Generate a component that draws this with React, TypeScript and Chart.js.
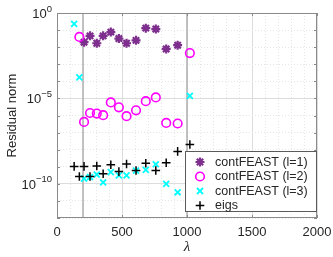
import React, { useEffect, useRef } from 'react';
import { Chart, registerables } from 'chart.js';
Chart.register(...registerables);

// ---- data ----
const lambda = [132, 172, 208, 254, 306, 355, 414, 476, 535, 608, 683, 760, 840, 928, 1022];
const resL1 = [null, null, 1.95e-2, 4.6e-2, 1.7e-2, 4.6e-2, 7.6e-2, 3.2e-2, 1.7e-2, 2.5e-2, 1.3e-1, 1.15e-1, 7.9e-3, 1.3e-2, null];
const resL2 = [null, 4.0e-2, 4.2e-7, 1.4e-6, 1.3e-6, 1.05e-6, 5.8e-6, 3.0e-6, 9.1e-7, 2.0e-6, 6.9e-6, 1.15e-5, 3.7e-7, 3.4e-7, 4.5e-3];
const resL3 = [2.3e-1, 1.7e-4, 2.0e-10, 2.5e-10, 3.5e-10, 1.2e-10, 4.8e-10, 3.1e-10, 3.1e-10, 6.0e-10, 6.6e-10, 1.4e-9, 1.0e-10, 3.2e-11, 1.4e-5];
const resEigs = [1.05e-9, 2.7e-10, 1.05e-9, 2.7e-10, 1.1e-9, 3.9e-10, 1.3e-9, 5.2e-10, 1.45e-9, 6.0e-10, 1.6e-9, 6.0e-10, 1.7e-9, 7.9e-9, 2.0e-8];
const intervalBounds = [200, 1000];
const xTickLabels = [0, 500, 1000, 1500, 2000];
const yTickExponents = [0, -5, -10];
const seriesNames = ['contFEAST (l=1)', 'contFEAST (l=2)', 'contFEAST (l=3)', 'eigs'];
const xTitle = 'λ';
const yTitle = 'Residual norm';

const COLORS = ['#7E2F8E', '#FF00FF', '#00FFFF', '#000000'];
const TEXT = '#262626';
const FRAME = '#8a8a8a';
const FONT = '"Liberation Sans", Arial, Helvetica, sans-serif';

const toPoints = (ys: (number | null)[]) =>
  lambda
    .map((x, i) => (ys[i] == null ? null : { x, y: ys[i] as number }))
    .filter((p) => p !== null) as { x: number; y: number }[];

function drawMarker(ctx: CanvasRenderingContext2D, kind: number, cx: number, cy: number) {
  ctx.save();
  ctx.strokeStyle = COLORS[kind];
  ctx.beginPath();
  if (kind === 0) {
    const r = 4.5, d = r * Math.SQRT1_2;
    ctx.lineWidth = 2.2;
    ctx.moveTo(cx - r, cy); ctx.lineTo(cx + r, cy);
    ctx.moveTo(cx, cy - r); ctx.lineTo(cx, cy + r);
    ctx.moveTo(cx - d, cy - d); ctx.lineTo(cx + d, cy + d);
    ctx.moveTo(cx - d, cy + d); ctx.lineTo(cx + d, cy - d);
  } else if (kind === 1) {
    ctx.lineWidth = 1.6;
    ctx.arc(cx, cy, 4.3, 0, Math.PI * 2);
  } else if (kind === 2) {
    const d = 3;
    ctx.lineWidth = 1.8;
    ctx.moveTo(cx - d, cy - d); ctx.lineTo(cx + d, cy + d);
    ctx.moveTo(cx - d, cy + d); ctx.lineTo(cx + d, cy - d);
  } else {
    const r = 4.3;
    ctx.lineWidth = 1.5;
    ctx.moveTo(cx - r, cy); ctx.lineTo(cx + r, cy);
    ctx.moveTo(cx, cy - r); ctx.lineTo(cx, cy + r);
  }
  ctx.stroke();
  ctx.restore();
}

const decor = {
  id: 'decor',
  afterDatasetsDraw(chart: any) {
    const { ctx, chartArea: a, scales } = chart;
    const x = scales.x, y = scales.y;
    ctx.save();
    // frame
    ctx.strokeStyle = FRAME;
    ctx.lineWidth = 1;
    ctx.strokeRect(a.left + 0.5, a.top + 0.5, a.right - a.left - 1, a.bottom - a.top - 1);
    // inward tick marks
    ctx.beginPath();
    for (let e = -12; e <= 0; e++) {
      const py = Math.round(y.getPixelForValue(Math.pow(10, e))) + 0.5;
      ctx.moveTo(a.left, py); ctx.lineTo(a.left + 3, py);
      ctx.moveTo(a.right, py); ctx.lineTo(a.right - 3, py);
    }
    for (const v of xTickLabels) {
      const px = Math.round(x.getPixelForValue(v)) + 0.5;
      ctx.moveTo(px, a.bottom); ctx.lineTo(px, a.bottom - 3);
      ctx.moveTo(px, a.top); ctx.lineTo(px, a.top + 3);
    }
    ctx.stroke();

    // legend
    const lx = 185, ly = 151, lw = a.right - lx, lh = 61;
    ctx.fillStyle = '#ffffff';
    ctx.fillRect(lx, ly, lw, lh);
    ctx.strokeStyle = '#5a5a5a';
    ctx.strokeRect(lx + 0.5, ly + 0.5, lw - 1, lh - 1);
    ctx.font = `12.5px ${FONT}`;
    ctx.fillStyle = TEXT;
    ctx.textAlign = 'left';
    ctx.textBaseline = 'middle';
    seriesNames.forEach((name, i) => {
      const cy = ly + 11 + i * 14.5;
      drawMarker(ctx, i, lx + 15, cy);
      ctx.fillStyle = TEXT;
      ctx.fillText(name, lx + 30, cy + 0.5);
    });

    // x tick labels
    ctx.font = `13px ${FONT}`;
    ctx.textAlign = 'center';
    ctx.textBaseline = 'middle';
    for (const v of xTickLabels) {
      ctx.fillText(String(v), x.getPixelForValue(v), a.bottom + 14);
    }
    // y tick labels with superscripts
    for (const e of yTickExponents) {
      const py = y.getPixelForValue(Math.pow(10, e));
      const sup = e === 0 ? '0' : '−' + String(-e);
      ctx.font = `9.5px ${FONT}`;
      const sw = ctx.measureText(sup).width;
      ctx.font = `13px ${FONT}`;
      const bw = ctx.measureText('10').width;
      const right = a.left - 5;
      ctx.textAlign = 'left';
      ctx.fillText('10', right - sw - bw, py + 1.5);
      ctx.font = `9.5px ${FONT}`;
      ctx.fillText(sup, right - sw, py - 4);
    }
    // axis titles
    ctx.font = `13px ${FONT}`;
    ctx.save();
    ctx.translate(12, (a.top + a.bottom) / 2);
    ctx.rotate(-Math.PI / 2);
    ctx.textAlign = 'center';
    ctx.fillText(yTitle, 0, 0);
    ctx.restore();
    ctx.font = `italic 15px "Liberation Serif", "DejaVu Serif", serif`;
    ctx.textAlign = 'center';
    ctx.fillText(xTitle, (a.left + a.right) / 2, 247);
    ctx.restore();
  },
};

export default function App() {
  const ref = useRef<HTMLCanvasElement | null>(null);
  useEffect(() => {
    if (!ref.current) return;
    const boundSets = intervalBounds.map((b) => ({
      type: 'line' as const,
      data: [{ x: b, y: 1e-12 }, { x: b, y: 1 }],
      borderColor: '#b3b3b3',
      borderWidth: 1.6,
      pointRadius: 0,
      showLine: true,
      order: 10,
    }));
    const chart = new Chart(ref.current, {
      type: 'scatter',
      data: {
        datasets: [
          ...boundSets,
          {
            label: seriesNames[0], data: toPoints(resL1), pointStyle: 'star', radius: 4.5,
            borderColor: COLORS[0], backgroundColor: COLORS[0], borderWidth: 2.2, order: 4,
          },
          {
            label: seriesNames[1], data: toPoints(resL2), pointStyle: 'circle', radius: 4.3,
            borderColor: COLORS[1], backgroundColor: 'rgba(0,0,0,0)', borderWidth: 1.6, order: 3,
          },
          {
            label: seriesNames[2], data: toPoints(resL3), pointStyle: 'crossRot', radius: 4.2,
            borderColor: COLORS[2], backgroundColor: COLORS[2], borderWidth: 1.8, order: 2,
          },
          {
            label: seriesNames[3], data: toPoints(resEigs), pointStyle: 'cross', radius: 4.3,
            borderColor: COLORS[3], backgroundColor: COLORS[3], borderWidth: 1.5, order: 1,
          },
        ] as any,
      },
      options: {
        animation: false,
        responsive: false,
        devicePixelRatio: 1,
        layout: { padding: { top: 13, right: 16, left: 0, bottom: 0 } },
        plugins: { legend: { display: false }, tooltip: { enabled: false } },
        elements: { point: { hoverRadius: 4 } },
        scales: {
          x: {
            type: 'linear',
            min: 0,
            max: 2000,
            afterBuildTicks: (s: any) => {
              const t = [];
              for (let v = 0; v <= 2000; v += 100) t.push({ value: v });
              s.ticks = t;
            },
            afterFit: (s: any) => { s.height = 39; },
            ticks: { display: false },
            border: {
              display: false,
              dash: (c: any) => (c.tick && c.tick.value % 500 === 0 ? [] : [1, 2]),
            },
            grid: {
              drawTicks: false,
              lineWidth: 1,
              color: (c: any) => (c.tick && c.tick.value % 500 === 0 ? '#dcdcdc' : '#e6e6e6'),
            },
          },
          y: {
            type: 'logarithmic',
            min: 1e-12,
            max: 1,
            afterBuildTicks: (s: any) => {
              const t = [];
              for (let e = -12; e <= 0; e++) t.push({ value: Math.pow(10, e) });
              s.ticks = t;
            },
            afterFit: (s: any) => { s.width = 57; },
            ticks: { display: false },
            border: {
              display: false,
              dash: (c: any) =>
                c.tick && Math.round(Math.log10(c.tick.value)) % 5 === 0 ? [] : [1, 2],
            },
            grid: {
              drawTicks: false,
              lineWidth: 1,
              color: (c: any) =>
                c.tick && Math.round(Math.log10(c.tick.value)) % 5 === 0 ? '#dcdcdc' : '#e6e6e6',
            },
          },
        },
      } as any,
      plugins: [decor],
    });
    return () => chart.destroy();
  }, []);
  return (
    <div style={{ position: 'absolute', left: 0, top: 0, width: 333, height: 257, background: '#fff' }}>
      <canvas ref={ref} width={333} height={257} style={{ display: 'block' }} />
    </div>
  );
}
